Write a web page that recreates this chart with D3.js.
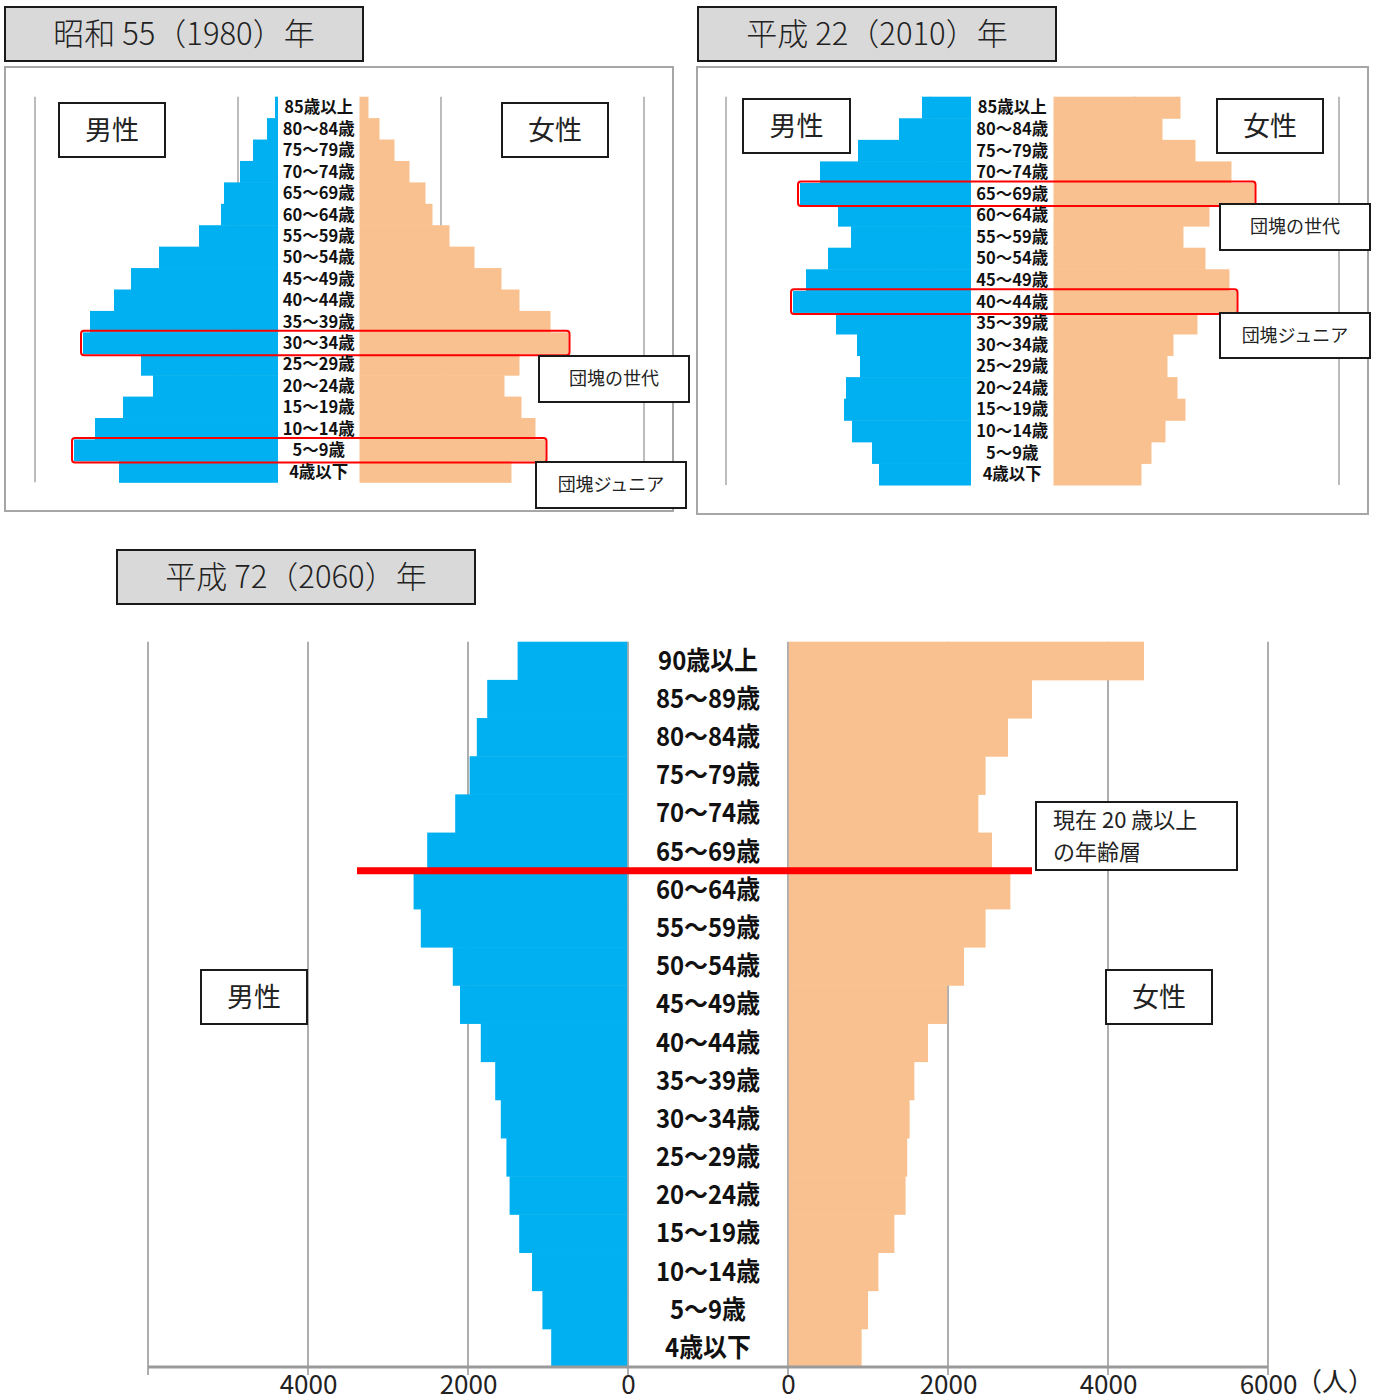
<!DOCTYPE html>
<html lang="ja">
<head>
<meta charset="utf-8">
<script src="https://cdn.jsdelivr.net/npm/d3@7"></script>
<style>
  html, body { margin: 0; padding: 0; background: #fff; }
  svg { display: block; }
  text { font-family: "Noto Sans CJK JP", "Noto Sans", sans-serif; }
</style>
</head>
<body>
<svg id="chart" width="1376" height="1400"></svg>
<script>
// ---- age groups ----
const ages18 = ["85歳以上", "80～84歳", "75～79歳", "70～74歳", "65～69歳", "60～64歳",
  "55～59歳", "50～54歳", "45～49歳", "40～44歳", "35～39歳", "30～34歳",
  "25～29歳", "20～24歳", "15～19歳", "10～14歳", "5～9歳", "4歳以下"];
const ages19 = ["90歳以上", "85～89歳", "80～84歳", "75～79歳", "70～74歳", "65～69歳",
  "60～64歳", "55～59歳", "50～54歳", "45～49歳", "40～44歳", "35～39歳", "30～34歳",
  "25～29歳", "20～24歳", "15～19歳", "10～14歳", "5～9歳", "4歳以下"];

// ---- 1980 ----
const male1980 = [30, 110, 250, 380, 540, 570, 790, 1190, 1470, 1640, 1880, 1950, 1370, 1250, 1550, 1830, 2040, 1590];
const female1980 = [90, 200, 350, 500, 660, 730, 900, 1150, 1420, 1600, 1910, 2090, 1600, 1450, 1620, 1760, 1860, 1520];
const highlight1980 = ["30～34歳", "5～9歳"];

// ---- 2010 ----
const male2010 = [490, 720, 1130, 1510, 1710, 1330, 1200, 1430, 1650, 1780, 1350, 1140, 1110, 1250, 1270, 1190, 990, 920];
const female2010 = [1270, 1090, 1420, 1780, 2010, 1560, 1300, 1520, 1760, 1830, 1440, 1200, 1140, 1240, 1320, 1120, 980, 880];
const highlight2010 = ["65～69歳", "40～44歳"];

// ---- 2060 (人) ----
const male2060 = [1380, 1760, 1890, 1980, 2160, 2510, 2680, 2590, 2190, 2100, 1840, 1660, 1590, 1520, 1480, 1360, 1200, 1070, 960];
const female2060 = [4450, 3050, 2750, 2470, 2380, 2550, 2780, 2470, 2200, 1990, 1750, 1580, 1520, 1490, 1470, 1330, 1130, 1000, 920];
const axisTicks2060 = [0, 2000, 4000, 6000];
const tickLabels2060 = ["0", "2000", "4000", "6000"];

const BLUE = "#00B0F0";
const PEACH = "#F9C18F";
const RED = "#FF0000";
const GRID = "#9a9a9a";

const svg = d3.select("#chart");

function titleBox(x, y, w, h, label) {
  const g = svg.append("g");
  g.append("rect").attr("x", x).attr("y", y).attr("width", w).attr("height", h)
    .attr("fill", "#d9d9d9").attr("stroke", "#1a1a1a").attr("stroke-width", 2);
  g.append("text").attr("x", x + w / 2).attr("y", y + h / 2 + 11)
    .attr("text-anchor", "middle").attr("font-size", 31).attr("font-weight", 300)
    .attr("fill", "#222").text(label);
}

function noteBox(x, y, w, h, lines, size, anchor, lineGap) {
  const g = svg.append("g");
  g.append("rect").attr("x", x).attr("y", y).attr("width", w).attr("height", h)
    .attr("fill", "#fff").attr("stroke", "#1a1a1a").attr("stroke-width", 2);
  const lh = lineGap || size * 1.28;
  const y0 = y + h / 2 - (lines.length - 1) * lh / 2 + size * 0.36;
  lines.forEach((t, i) => {
    g.append("text")
      .attr("x", anchor === "start" ? x + 17 : x + w / 2)
      .attr("y", y0 + i * lh)
      .attr("text-anchor", anchor || "middle")
      .attr("font-size", size).attr("fill", "#222")
      .text(t);
  });
}

// Small pyramid (1980 / 2010)
function smallPyramid(opt) {
  const y = d3.scaleBand().domain(ages18).range([opt.top, opt.bottom]).padding(0);
  const xm = d3.scaleLinear().domain([0, 2000]).range([opt.maleZero, opt.maleZero - 200]);
  const xf = d3.scaleLinear().domain([0, 2000]).range([opt.femaleZero, opt.femaleZero + 200]);

  // panel frame
  svg.append("rect").attr("x", opt.panel[0]).attr("y", opt.panel[1])
    .attr("width", opt.panel[2]).attr("height", opt.panel[3])
    .attr("fill", "#fff").attr("stroke", "#a6a6a6").attr("stroke-width", 2);

  // background grid
  const gx = d3.scaleLinear().domain([0, 3]).range(opt.grid);
  svg.append("g").selectAll("line").data(d3.range(4)).join("line")
    .attr("x1", d => gx(d)).attr("x2", d => gx(d))
    .attr("y1", opt.top).attr("y2", opt.bottom)
    .attr("stroke", "#a6a6a6").attr("stroke-width", 1.5);

  const rows = ages18.map((a, i) => ({ age: a, m: opt.male[i], f: opt.female[i] }));

  svg.append("g").selectAll("rect").data(rows).join("rect")
    .attr("x", d => xm(d.m)).attr("width", d => xm(0) - xm(d.m))
    .attr("y", d => y(d.age)).attr("height", y.bandwidth() + 0.5)
    .attr("fill", BLUE);
  svg.append("g").selectAll("rect").data(rows).join("rect")
    .attr("x", xf(0)).attr("width", d => xf(d.f) - xf(0))
    .attr("y", d => y(d.age)).attr("height", y.bandwidth() + 0.5)
    .attr("fill", PEACH);

  // highlighted cohorts
  svg.append("g").selectAll("rect").data(rows.filter(d => opt.highlight.includes(d.age))).join("rect")
    .attr("x", d => xm(d.m) - 2).attr("width", d => xf(d.f) - xm(d.m) + 3)
    .attr("y", d => y(d.age) - 1.5).attr("height", y.bandwidth() + 3)
    .attr("rx", 3).attr("fill", "none").attr("stroke", RED).attr("stroke-width", 2);

  // age labels
  const cx = (opt.maleZero + opt.femaleZero) / 2;
  svg.append("g").selectAll("text").data(rows).join("text")
    .attr("x", cx).attr("y", d => y(d.age) + y.bandwidth() / 2 + 6)
    .attr("text-anchor", "middle").attr("font-size", 16.5).attr("font-weight", 700)
    .attr("fill", "#111").text(d => d.age);
}

// ---------- 1980 ----------
titleBox(5, 7, 358, 54, "昭和 55（1980）年");
smallPyramid({
  panel: [5, 67, 668, 444], grid: [35, 644],
  top: 96.7, bottom: 482.3, maleZero: 278, femaleZero: 359.5,
  male: male1980, female: female1980, highlight: highlight1980
});
noteBox(59, 103, 106, 54, ["男性"], 27);
noteBox(502, 103, 106, 54, ["女性"], 27);
noteBox(539, 356, 150, 46, ["団塊の世代"], 18);
noteBox(536, 462, 150, 46, ["団塊ジュニア"], 18);

// ---------- 2010 ----------
titleBox(698, 7, 358, 54, "平成 22（2010）年");
smallPyramid({
  panel: [697, 67, 671, 447], grid: [726, 1339],
  top: 96.7, bottom: 485, maleZero: 971, femaleZero: 1053.5,
  male: male2010, female: female2010, highlight: highlight2010
});
noteBox(743, 99, 107, 54, ["男性"], 27);
noteBox(1217, 99, 106, 54, ["女性"], 27);
noteBox(1220, 204, 150, 46, ["団塊の世代"], 18);
noteBox(1220, 313, 150, 45, ["団塊ジュニア"], 18);

// ---------- 2060 ----------
titleBox(117, 550, 358, 54, "平成 72（2060）年");
{
  const top = 641.7, bottom = 1367;
  const y = d3.scaleBand().domain(ages19).range([top, bottom]).padding(0);
  const xm = d3.scaleLinear().domain([0, 6000]).range([628, 148]);
  const xf = d3.scaleLinear().domain([0, 6000]).range([788, 1268]);

  // grid lines
  const gl = svg.append("g");
  [xm, xf].forEach(sc => {
    gl.selectAll(null).data(axisTicks2060).join("line")
      .attr("x1", d => sc(d)).attr("x2", d => sc(d))
      .attr("y1", top).attr("y2", bottom + 8)
      .attr("stroke", GRID).attr("stroke-width", 1.6);
  });

  const rows = ages19.map((a, i) => ({ age: a, m: male2060[i], f: female2060[i] }));
  svg.append("g").selectAll("rect").data(rows).join("rect")
    .attr("x", d => xm(d.m)).attr("width", d => xm(0) - xm(d.m) - 0.8)
    .attr("y", d => y(d.age)).attr("height", y.bandwidth() + 0.5)
    .attr("fill", BLUE);
  svg.append("g").selectAll("rect").data(rows).join("rect")
    .attr("x", xf(0) + 0.8).attr("width", d => xf(d.f) - xf(0) - 0.8)
    .attr("y", d => y(d.age)).attr("height", y.bandwidth() + 0.5)
    .attr("fill", PEACH);

  // horizontal axis
  svg.append("line").attr("x1", xm(6000)).attr("x2", xf(6000))
    .attr("y1", bottom).attr("y2", bottom)
    .attr("stroke", GRID).attr("stroke-width", 3);

  const axStyle = g => {
    g.select(".domain").remove();
    g.selectAll(".tick line").remove();
    g.selectAll(".tick text")
      .attr("font-family", "'Liberation Serif', 'DejaVu Serif', serif")
      .attr("font-size", 26).attr("fill", "#222").attr("dy", "0.76em");
  };
  svg.append("g").attr("transform", `translate(0,${bottom + 4})`)
    .call(d3.axisBottom(xm).tickValues([0, 2000, 4000]).tickFormat(d3.format("d")).tickSize(0))
    .call(axStyle);
  svg.append("g").attr("transform", `translate(0,${bottom + 4})`)
    .call(d3.axisBottom(xf).tickValues(axisTicks2060).tickFormat((d, i) => tickLabels2060[i]).tickSize(0))
    .call(axStyle);
  svg.append("text").attr("x", xf(6000) + 28).attr("y", bottom + 24)
    .attr("font-family", "'Liberation Serif', 'Noto Sans CJK JP', serif")
    .attr("font-size", 26).attr("fill", "#222").text("（人）");

  // age labels
  const cx = (xm(0) + xf(0)) / 2;
  svg.append("g").selectAll("text").data(rows).join("text")
    .attr("transform", d => `translate(${cx},${y(d.age) + y.bandwidth() / 2 + 9}) scale(0.92,1)`)
    .attr("text-anchor", "middle").attr("font-size", 26).attr("font-weight", 700)
    .attr("fill", "#111").text(d => d.age);

  // boundary between the 60-64 and 65-69 groups
  const yLine = y("60～64歳");
  svg.append("rect").attr("x", 357).attr("y", yLine - 3.5)
    .attr("width", 1032 - 357).attr("height", 7).attr("fill", RED);

  noteBox(1036, 802, 201, 68, ["現在 20 歳以上", "の年齢層"], 22, "start", 32);
  noteBox(201, 970, 106, 54, ["男性"], 27);
  noteBox(1106, 970, 106, 54, ["女性"], 27);
}
</script>
</body>
</html>
